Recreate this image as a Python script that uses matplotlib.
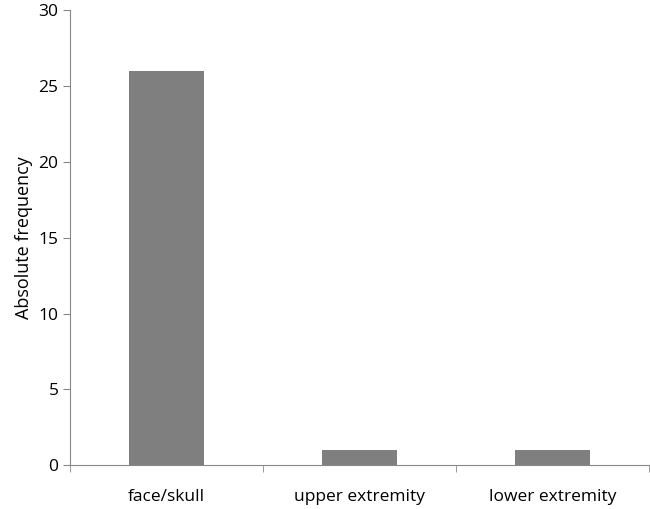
import matplotlib
matplotlib.use("Agg")
from matplotlib import pyplot as plt
import numpy as np

categories = ["face/skull", "upper extremity", "lower extremity"]
counts = [26, 1, 1]
yticks = [0, 5, 10, 15, 20, 25, 30]

plt.rcParams['font.family'] = ['Open Sans', 'DejaVu Sans']
fig = plt.figure(figsize=(6.5, 5.09), dpi=100)
ax = fig.add_axes([0.108, 0.086, 0.89, 0.894])

x = np.arange(len(categories))
ax.bar(x, counts, width=0.39, color="#7f7f7f")
ax.set_xlim(-0.5, len(categories) - 0.5)
ax.set_ylim(0, 30)
ax.set_yticks(yticks)
ax.set_xticks(x)
ax.set_xticklabels(categories, fontsize=12.5)
ax.set_xticks(np.arange(-0.5, len(categories)), minor=True)
ax.tick_params(axis="x", which="major", length=0, pad=17)
ax.tick_params(axis="x", which="minor", length=5, color="#888888")
ax.tick_params(axis="y", length=5, color="#888888", labelsize=12.5)
ax.set_ylabel("Absolute frequency", fontsize=13)
for s in ["top", "right"]:
    ax.spines[s].set_visible(False)
for s in ["left", "bottom"]:
    ax.spines[s].set_color("#888888")

fig.savefig("out.png")
